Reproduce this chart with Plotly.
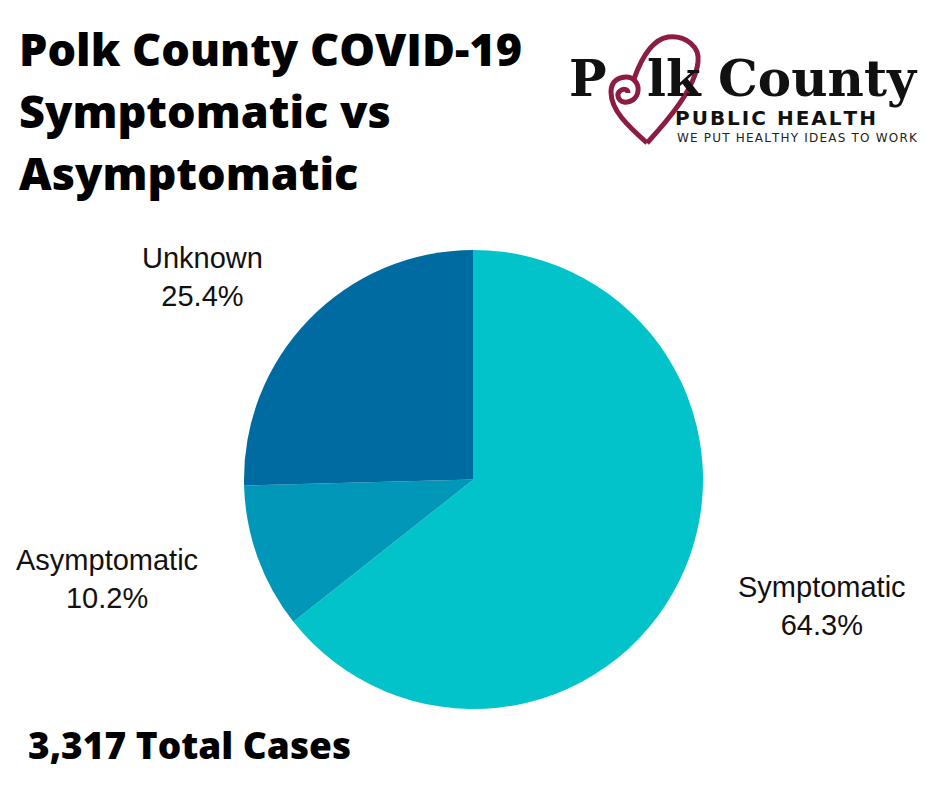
import plotly.graph_objects as go

# data
categories = ["Symptomatic", "Asymptomatic", "Unknown"]
percents = [64.3, 10.2, 25.4]
total_cases = "3,317"

colors = ["#02C3CA", "#0097B8", "#006BA1"]
W, H = 940, 788
OFF = 8  # page body margin, the plot sits 8 px down and right

fig = go.Figure()

# pie, centre ~ (473, 479), radius ~ 229 px in the reference
fig.add_trace(go.Pie(
    labels=categories,
    values=percents,
    sort=False,
    direction="clockwise",
    rotation=0,
    textinfo="none",
    hoverinfo="label+percent",
    marker=dict(colors=colors, line=dict(width=0)),
    domain=dict(x=[(244 - OFF) / W, (703 - OFF) / W],
                y=[1 - (709 - OFF) / H, 1 - (250 - OFF) / H]),
    showlegend=False,
))

# slice labels (pixel positions of the label centres)
label_pos = [(822, 606), (107, 579), (202, 277)]
annotations = []
for name, pct, (px, py) in zip(categories, percents, label_pos):
    annotations.append(dict(
        x=px, y=py, xref="x", yref="y", showarrow=False,
        text=f"{name}<br>{pct:.1f}%",
        font=dict(family="Liberation Sans, Arial", size=29, color="#111111"),
        align="center", xanchor="center", yanchor="middle",
    ))

# title, one line per annotation
title_font = dict(family="Open Sans", size=45, color="#000000", weight=800)
for i, line in enumerate(["Polk County COVID-19", "Symptomatic vs", "Asymptomatic"]):
    annotations.append(dict(
        x=17, y=48 + i * 62, xref="x", yref="y", showarrow=False,
        text=line, font=title_font, xanchor="left", yanchor="middle",
    ))

annotations.append(dict(
    x=26, y=744, xref="x", yref="y", showarrow=False,
    text=f"{total_cases} Total Cases",
    font=dict(family="Open Sans", size=37, color="#000000", weight=800),
    xanchor="left", yanchor="middle",
))

# logo text
hs = "\u200a"
logo_font = dict(family="DejaVu Serif", size=50, color="#111111", weight="bold")
annotations.append(dict(x=567, y=78, xref="x", yref="y", showarrow=False,
                        text="P", font=logo_font, xanchor="left", yanchor="middle"))
annotations.append(dict(x=920, y=78, xref="x", yref="y", showarrow=False,
                        text="lk County", font=logo_font, xanchor="right", yanchor="middle"))
annotations.append(dict(x=673, y=118, xref="x", yref="y", showarrow=False,
                        text=hs.join("PUBLIC HEALTH"),
                        font=dict(family="DejaVu Sans", size=20, color="#111111", weight="bold"),
                        xanchor="left", yanchor="middle"))
annotations.append(dict(x=675, y=138, xref="x", yref="y", showarrow=False,
                        text=hs.join("WE PUT HEALTHY IDEAS TO WORK"),
                        font=dict(family="DejaVu Sans", size=12, color="#222222"),
                        xanchor="left", yanchor="middle"))

# heart swirl of the logo
heart = "#8C1D40"
shapes = [
    dict(type="path", xref="x", yref="y", layer="below",
         path="M 647 143 C 627 125, 611 110, 611 92 C 611 80, 620 77, 626 77 "
              "C 634 77, 639 84, 638 91 C 637 99, 630 103, 624 102 "
              "C 618 101, 616 94, 620 91 C 623 88, 628 89, 628 93",
         line=dict(color=heart, width=5)),
    dict(type="path", xref="x", yref="y", layer="below",
         path="M 634 79 C 640 62, 650 40, 668 37 C 686 35, 700 47, 698 62 "
              "C 695 88, 670 118, 647 143",
         line=dict(color=heart, width=5)),
]

fig.update_layout(
    width=W, height=H,
    margin=dict(l=0, r=0, t=0, b=0),
    paper_bgcolor="white",
    plot_bgcolor="rgba(0,0,0,0)",
    xaxis=dict(range=[OFF, W + OFF], visible=False, fixedrange=True),
    yaxis=dict(range=[H + OFF, OFF], visible=False, fixedrange=True),
    annotations=annotations,
    shapes=shapes,
)

fig.write_html("out.html")
